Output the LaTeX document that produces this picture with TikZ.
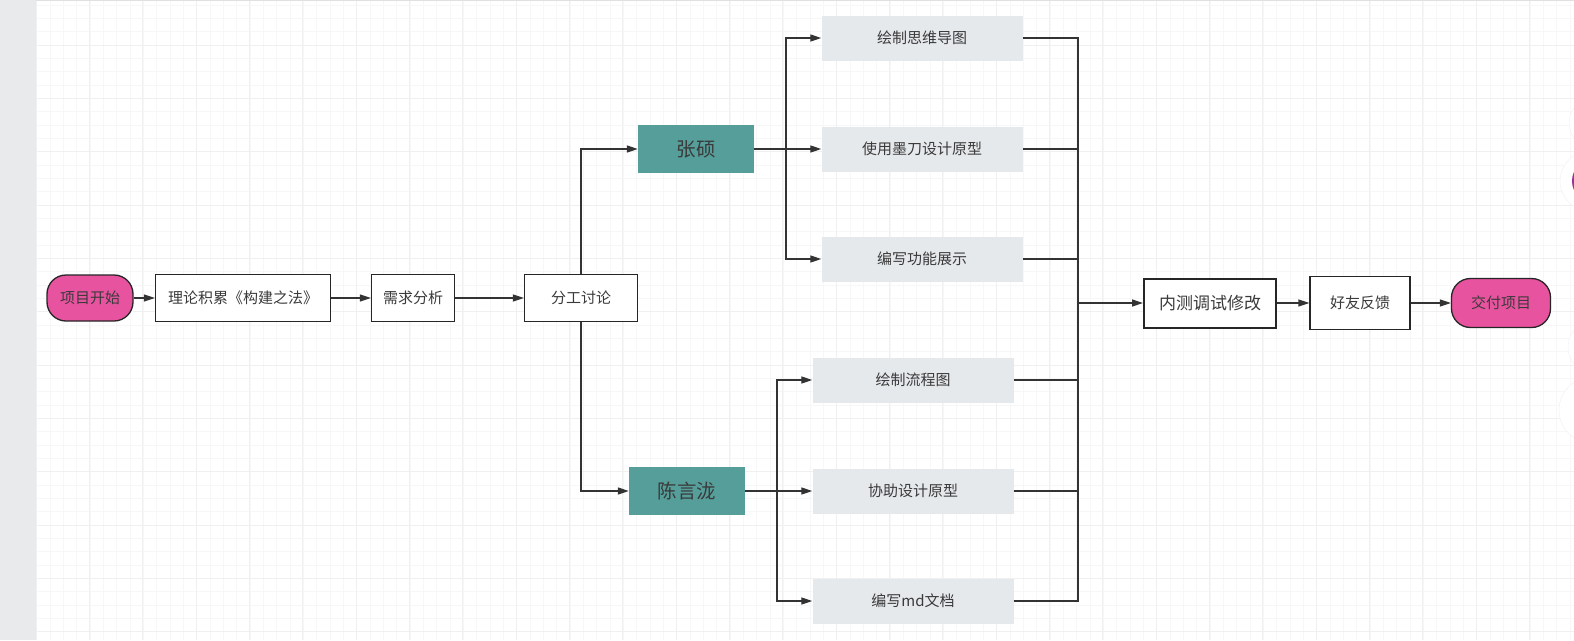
\documentclass[tikz,border=0pt]{standalone}
\usepackage{fontspec}
\setmainfont{Noto Sans CJK SC}
\usetikzlibrary{arrows.meta}
\definecolor{pinkfill}{HTML}{E8539F}
\definecolor{tealfill}{HTML}{559E9A}
\definecolor{grayfill}{HTML}{E6E9EC}
\definecolor{linegray}{HTML}{333333}
\definecolor{textgray}{HTML}{3A3A3A}
\definecolor{gridminor}{HTML}{F7F7F7}
\definecolor{gridmajor}{HTML}{F0F0F0}
\definecolor{sidebar}{HTML}{E9EAEC}
\begin{document}
\begin{tikzpicture}[x=1pt, y=-1pt, >={Triangle[length=11pt,width=7pt]},
	conn/.style={draw=linegray, line width=1.3pt},
	pill/.style={draw=black!85, fill=pinkfill, line width=1.3pt, rounded corners=19pt, minimum height=46pt, inner sep=0pt, font=\fontsize{15}{15}\selectfont, text=textgray},
	plainbox/.style={draw=black!85, fill=white, line width=1.2pt, minimum height=47pt, inner sep=0pt, font=\fontsize{15}{15}\selectfont, text=textgray},
	person/.style={fill=tealfill, minimum width=116pt, minimum height=48pt, inner sep=0pt, font=\fontsize{19.5}{19.5}\selectfont, text=textgray},
	task/.style={fill=grayfill, minimum width=201pt, minimum height=45pt, inner sep=0pt, font=\fontsize{15}{15}\selectfont, text=textgray}]
	% background
	\useasboundingbox (0,0) rectangle (1574,640);
	\fill[white] (0,0) rectangle (1574,640);
	\foreach \i in {-4,...,111} \draw[gridminor, line width=0.9pt] ({90+13.333*\i},0) -- ({90+13.333*\i},640);
	\foreach \i in {-3,...,45} \draw[gridminor, line width=0.9pt] (36,{45+13.333*\i}) -- (1574,{45+13.333*\i});
	\foreach \i in {-1,...,28} \draw[gridmajor, line width=1pt] ({89.5+53.333*\i},0) -- ({89.5+53.333*\i},640);
	\foreach \i in {-1,...,11} \draw[gridmajor, line width=1pt] (36,{45+53.333*\i}) -- (1574,{45+53.333*\i});
	\draw[black!12, line width=1pt] (36,0.5) -- (1574,0.5);
	\fill[sidebar] (0,0) rectangle (36,640);
	% side buttons
	\fill[white, draw=black!6] (1594,123) circle (25);
	\fill[white, draw=black!6] (1590,181) circle (30);
	\fill[violet!80] (1594,181) circle (22);
	\fill[white, draw=black!6] (1594,347) circle (26);
	\fill[white, draw=black!6] (1592,410) circle (33);

	% main line
	\node[pill, minimum width=86pt] (start) at (90,298) {项目开始};
	\node[plainbox, minimum width=175pt] (theory) at (243,298) {理论积累《构建之法》};
	\node[plainbox, minimum width=83pt] (need) at (413,298) {需求分析};
	\node[plainbox, minimum width=113pt] (split) at (581,298) {分工讨论};
	\node[person] (zs) at (696,149) {张硕};
	\node[person] (cyl) at (687,491) {陈言泷};
	\node[task] (mind) at (922,38) {绘制思维导图};
	\node[task] (proto) at (922,149) {使用墨刀设计原型};
	\node[task] (show) at (922,259) {编写功能展示};
	\node[task] (flow) at (913,380) {绘制流程图};
	\node[task] (help) at (913,491) {协助设计原型};
	\node[task] (doc) at (913,601) {编写md文档};
	\node[plainbox, line width=2pt, minimum width=132pt, minimum height=49pt, font=\fontsize{17}{17}\selectfont] (test) at (1210,303) {内测调试修改};
	\node[plainbox, minimum width=100pt, minimum height=53pt] (friend) at (1360,303) {好友反馈};
	\node[pill, minimum width=99pt, minimum height=49pt] (deliver) at (1501,303) {交付项目};

	\coordinate (zsfork) at (786,149);
	\coordinate (cylfork) at (777,491);
	\coordinate (merge) at (1078,303);

	\draw[conn, ->] (start) -- (theory);
	\draw[conn, ->] (theory) -- (need);
	\draw[conn, ->] (need) -- (split);
	\draw[conn, ->] (split.north) |- (zs);
	\draw[conn, ->] (split.south) |- (cyl);
	\draw[conn] (zs) -- (zsfork);
	\draw[conn, ->] (zsfork) |- (mind);
	\draw[conn, ->] (zsfork) -- (proto);
	\draw[conn, ->] (zsfork) |- (show);
	\draw[conn] (cyl) -- (cylfork);
	\draw[conn, ->] (cylfork) |- (flow);
	\draw[conn, ->] (cylfork) -- (help);
	\draw[conn, ->] (cylfork) |- (doc);
	\foreach \t in {mind,proto,show,flow,help,doc}
		\draw[conn] (\t.east) -| (merge);
	\draw[conn, ->] (merge) -- (test);
	\draw[conn, ->] (test) -- (friend);
	\draw[conn, ->] (friend) -- (deliver);
\end{tikzpicture}
\end{document}
